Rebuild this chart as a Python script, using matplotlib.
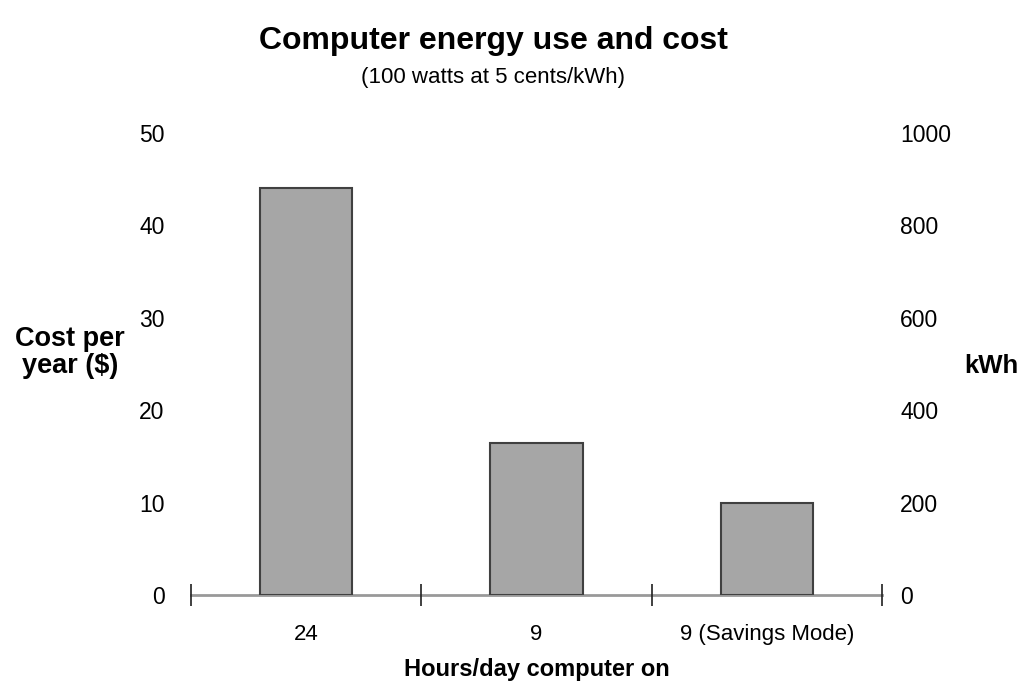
import numpy as np
import matplotlib.pyplot as plt
from matplotlib.ticker import FixedLocator

plt.rcParams['font.family'] = ['Liberation Sans', 'DejaVu Sans']

categories = ['24', '9', '9 (Savings Mode)']
cost = [44.0, 16.5, 10.0]
kwh_ticks = [0, 200, 400, 600, 800, 1000]

fig = plt.figure(figsize=(10.18, 6.88), dpi=100)
ax = fig.add_axes([0.1876, 0.1352, 0.6788, 0.6715])

x = np.arange(len(categories))
ax.bar(x, cost, width=0.4, color='#a6a6a6', edgecolor='#404040', linewidth=1.5, zorder=2)

ax.set_xlim(-0.5, len(categories) - 0.5)
ax.set_ylim(0, 50)
ax.set_yticks([0, 10, 20, 30, 40, 50])
ax.set_xticks(x)
ax.set_xticklabels(categories)
ax.xaxis.set_minor_locator(FixedLocator(np.arange(len(categories) + 1) - 0.5))

for s in ['top', 'left', 'right']:
    ax.spines[s].set_visible(False)
ax.spines['bottom'].set_color('#999999')
ax.spines['bottom'].set_linewidth(2)
ax.spines['bottom'].set_zorder(1)

ax.tick_params(axis='x', which='major', length=0, pad=21, labelsize=16)
ax.tick_params(axis='x', which='minor', length=16, width=1.2, direction='inout', color='#202020')
ax.tick_params(axis='y', length=0, pad=19, labelsize=16.5)

# kWh scale on the right, same baseline
ax2 = ax.twinx()
ax2.set_ylim(0, 1000)
ax2.set_yticks(kwh_ticks)
for s in ax2.spines.values():
    s.set_visible(False)
ax2.tick_params(axis='y', length=0, pad=13, labelsize=16.5)

ax.set_xlabel('Hours/day computer on', fontsize=17, fontweight='bold', labelpad=9)
fig.text(0.069, 0.487, 'Cost per\nyear ($)', fontsize=19.5, fontweight='bold',
         ha='center', va='center', linespacing=1.05)
fig.text(0.974, 0.468, 'kWh', fontsize=18.5, fontweight='bold', ha='center', va='center')

fig.text(0.485, 0.94, 'Computer energy use and cost', fontsize=23, fontweight='bold',
         ha='center', va='center')
fig.text(0.484, 0.888, '(100 watts at 5 cents/kWh)', fontsize=16, ha='center', va='center')

fig.savefig('out.png', dpi=100)
